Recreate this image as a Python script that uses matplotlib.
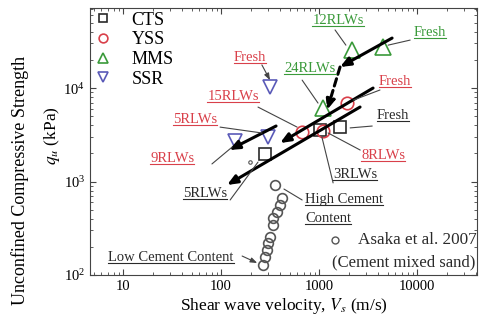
import matplotlib
matplotlib.use('Agg')
import matplotlib.pyplot as plt
from matplotlib.lines import Line2D
from matplotlib.ticker import LogLocator, FixedLocator, FixedFormatter, NullFormatter

plt.rcParams['font.family'] = ['Liberation Serif', 'DejaVu Serif']
plt.rcParams['mathtext.fontset'] = 'stix'

# ---- data (Vs in m/s, qu in kPa) ----
cts_vs = [281, 1023, 1637]
cts_qu = [1968, 3556, 3830]
yss_vs = [671, 1099, 1931]
yss_qu = [3381, 3467, 6918]
mms_vs = [2172, 4500, 1099]
mms_qu = [25460, 27500, 6110]
ssr_vs = [316, 139, 302]
ssr_qu = [10260, 2710, 2990]

asaka_vs = [356, 419, 400, 373, 339, 339, 316, 302, 295, 281, 269]
asaka_qu = [918, 666, 561, 472, 407, 343, 255, 220, 185, 156, 128]

# degradation trends (start -> end)
mms_trend = [(5560, 34270), (1637, 16800)]
mms_trend2 = [(1637, 16800), (1208, 5820)]
yss_trend = [(3556, 10000), (400, 2582)]
cts_trend = [(2620, 6266), (115, 918)]
ssr_trend = [(364, 3926), (121, 2173)]

RED = '#d9404a'
GREEN = '#3a9a3a'
BLUE = '#5a5ab8'
BLK = '#2a2a2a'

fig = plt.figure(figsize=(4.8, 3.22), dpi=100)
ax = fig.add_axes([0.1875, 0.146, 0.8065, 0.829])

# trend arrows
def trend(seg, ls='-'):
    (x0, y0), (x1, y1) = seg
    ax.annotate('', xy=(x1, y1), xytext=(x0, y0),
                arrowprops=dict(arrowstyle='-|>,head_length=0.6,head_width=0.25',
                                color='black', lw=2.2, linestyle=ls,
                                shrinkA=0, shrinkB=0), zorder=4)

trend(mms_trend)
trend(mms_trend2, ls=(0, (2.5, 1.5)))
trend(yss_trend)
trend(cts_trend)
trend(ssr_trend)

ms = 9
ax.plot(cts_vs, cts_qu, 's', ms=ms, mfc='none', mec=BLK, mew=1.2, zorder=3, label='CTS')
ax.plot(yss_vs, yss_qu, 'o', ms=ms, mfc='none', mec=RED, mew=1.2, zorder=3, label='YSS')
ax.plot(mms_vs, mms_qu, '^', ms=ms + 2, mfc='none', mec=GREEN, mew=1.2, zorder=3, label='MMS')
ax.plot(ssr_vs, ssr_qu, 'v', ms=ms + 1, mfc='none', mec=BLUE, mew=1.2, zorder=3, label='SSR')
ax.plot(asaka_vs, asaka_qu, 'o', ms=7, mfc='none', mec='#555555', mew=1.2, zorder=3)
ax.plot([198], [1618], 'o', ms=2.5, mfc='none', mec='#555555', mew=0.8)

ax.set_xscale('log')
ax.set_yscale('log')
ax.set_xlim(4.6, 41000)
ax.set_ylim(100, 71800)

ax.xaxis.set_major_locator(FixedLocator([10, 100, 1000, 10000]))
ax.xaxis.set_major_formatter(FixedFormatter(['10', '100', '1000', '10000']))
ax.xaxis.set_minor_locator(LogLocator(base=10, subs=range(2, 10), numticks=20))
ax.xaxis.set_minor_formatter(NullFormatter())
ax.yaxis.set_minor_locator(LogLocator(base=10, subs=range(2, 10), numticks=20))
ax.yaxis.set_minor_formatter(NullFormatter())
ax.tick_params(which='both', direction='in', top=True, right=True, labelsize=10.5,
               color='#444444')
ax.tick_params(which='major', length=4)
ax.tick_params(which='minor', length=2)
for s in ax.spines.values():
    s.set_color('#444444')

ax.set_xlabel('Shear wave velocity, $\\it{V_s}$ (m/s)', fontsize=12.5, labelpad=2)
fig.text(0.042, 0.44, 'Unconfined Compressive Strength', rotation=90,
         ha='center', va='center', fontsize=13)
fig.text(0.108, 0.58, '$\\boldsymbol{q_u}$ (kPa)', rotation=90,
         ha='center', va='center', fontsize=12.5)

leg = ax.legend(loc='upper left', frameon=False, fontsize=13, handlelength=1.0,
                handletextpad=1.1, labelspacing=0.15, borderaxespad=0.0,
                borderpad=0.2, markerscale=0.7)

# annotation labels: text, (x, y) axes fraction center, color, leader start/end
labels = [
    ('12RLWs', (0.641, 0.955), GREEN, (0.633, 0.918), (0.661, 0.861)),
    ('Fresh', (0.879, 0.910), GREEN, (0.827, 0.880), (0.770, 0.861)),
    ('24RLWs', (0.568, 0.775), GREEN, (0.548, 0.730), (0.589, 0.644)),
    ('Fresh', (0.788, 0.723), RED, (0.749, 0.693), (0.680, 0.655)),
    ('Fresh', (0.413, 0.816), RED, (0.444, 0.787), (0.465, 0.730)),
    ('15RLWs', (0.370, 0.667), RED, (0.434, 0.629), (0.535, 0.554)),
    ('5RLWs', (0.271, 0.581), RED, (0.336, 0.554), (0.444, 0.532)),
    ('9RLWs', (0.212, 0.438), RED, (0.315, 0.416), (0.367, 0.479)),
    ('5RLWs', (0.297, 0.307), BLK, (0.362, 0.281), (0.434, 0.423)),
    ('3RLWs', (0.685, 0.375), BLK, (0.628, 0.345), (0.599, 0.517)),
    ('8RLWs', (0.757, 0.449), RED, (0.698, 0.468), (0.615, 0.532)),
    ('Fresh', (0.783, 0.599), BLK, (0.729, 0.558), (0.672, 0.551)),
    ('Low Cement Content', (0.209, 0.064), BLK, (0.393, 0.071), (0.432, 0.045)),
]
arrow_heads = {4, 12}

under = []
for i, (txt, (tx, ty), col, p0, p1) in enumerate(labels):
    t = ax.text(tx, ty, txt, transform=ax.transAxes, ha='center', va='center',
                color=col, fontsize=10.5, zorder=6)
    under.append(t)
    style = '-|>,head_length=0.4,head_width=0.15' if i in arrow_heads else '-'
    ax.annotate('', xy=p1, xytext=p0, xycoords='axes fraction', textcoords='axes fraction',
                arrowprops=dict(arrowstyle=style, color='#444444', lw=0.8,
                                shrinkA=0, shrinkB=0), zorder=5)

t1 = ax.text(0.556, 0.281, 'High Cement', transform=ax.transAxes, ha='left',
             va='center', color=BLK, fontsize=10.5)
t2 = ax.text(0.556, 0.213, 'Content', transform=ax.transAxes, ha='left',
             va='center', color=BLK, fontsize=10.5)
under += [t1, t2]
ax.annotate('', xy=(0.501, 0.322), xytext=(0.548, 0.281), xycoords='axes fraction',
            arrowprops=dict(arrowstyle='-', color='#444444', lw=0.8, shrinkA=0, shrinkB=0))

ax.plot([0.633], [0.131], 'o', ms=5, mfc='none', mec='#555555', mew=1.0,
        transform=ax.transAxes)
ax.text(0.693, 0.131, 'Asaka et al. 2007', transform=ax.transAxes, ha='left',
        va='center', fontsize=12.3, color=BLK)
ax.text(0.626, 0.049, '(Cement mixed sand)', transform=ax.transAxes, ha='left',
        va='center', fontsize=12, color=BLK)

# underline the labels
fig.canvas.draw()
r = fig.canvas.get_renderer()
W, H = fig.bbox.width, fig.bbox.height
for t in under:
    bb = t.get_window_extent(renderer=r)
    y = (bb.y0 + 1.0) / H
    fig.add_artist(Line2D([bb.x0 / W, bb.x1 / W], [y, y], color=t.get_color(), lw=0.8))

fig.savefig('out.png', dpi=100)
